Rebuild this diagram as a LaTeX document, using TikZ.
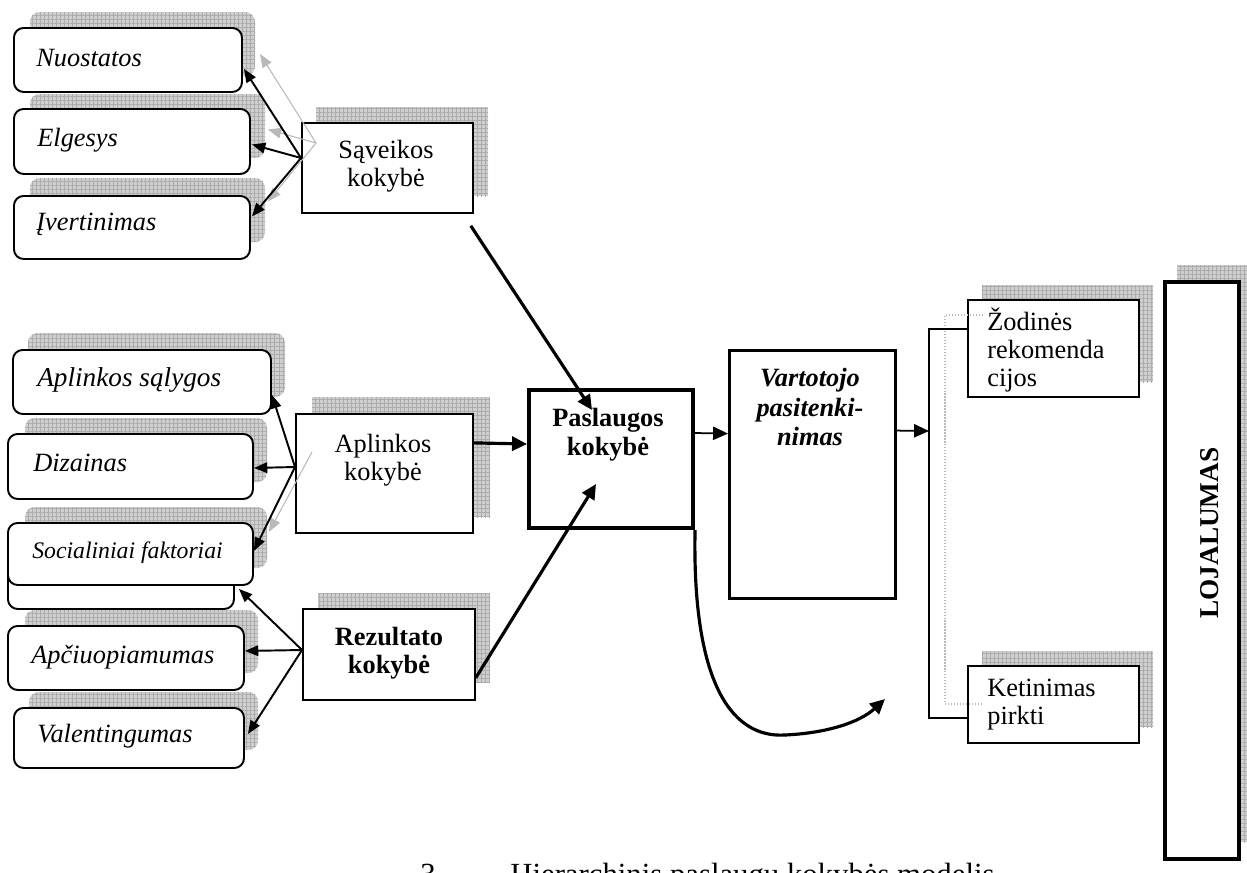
\documentclass[tikz,border=0pt]{standalone}
\usepackage{fontspec}
\setmainfont{Liberation Serif}
\usetikzlibrary{arrows.meta,patterns.meta,calc}
\newcommand{\pxl}[1]{#1*0.02cm}
\tikzset{
  shd/.style={preaction={fill=gray!38}, pattern={Hatch[angle=0,distance=2.3pt,line width=0.35pt]}, pattern color=gray!65},
  rshd/.style={shd, rounded corners=5.5pt},
  lbox/.style={draw, line width=1.1pt, fill=white, rounded corners=5.5pt, anchor=north west, inner sep=0pt},
  sbox/.style={draw, line width=1pt, fill=white, anchor=north west, inner sep=0pt},
  tbox/.style={draw, line width=2.3pt, fill=white, anchor=north west, inner sep=0pt},
  itxt/.style={font=\fontsize{15}{16}\selectfont\itshape, anchor=base west, inner sep=0pt},
  ctxt/.style={font=\fontsize{15}{15.9}\selectfont, align=center, inner sep=0pt},
  btxt/.style={font=\fontsize{15}{16.2}\selectfont\bfseries, align=center, inner sep=0pt},
  ltxt/.style={font=\fontsize{15}{16}\selectfont, align=left, anchor=west, inner sep=0pt},
  arr/.style={-{Triangle[length=7.6pt,width=6pt]}, line width=1.1pt},
  garr/.style={-{Triangle[length=7.6pt,width=6pt]}, line width=0.6pt, draw=gray!55},
  tarr/.style={-{Triangle[length=8.5pt,width=8pt]}, line width=1.8pt},
  marr/.style={-{Triangle[length=8.5pt,width=7.5pt]}, line width=1pt},
}
\begin{document}
\begin{tikzpicture}[x=0.02cm,y=-0.02cm]
\useasboundingbox (0,0) rectangle (1247,872);
% shadows
\path[rshd] (30,12) rectangle (255,76);
\path[rshd] (30,94) rectangle (265,158);
\path[rshd] (30,178) rectangle (265,242);
\path[rshd] (28,333) rectangle (285,397);
\path[rshd] (25,418) rectangle (267,482);
\path[rshd] (25,507) rectangle (267,568);
\path[rshd] (25,610) rectangle (258,673);
\path[rshd] (29,692) rectangle (258,750);
\path[shd] (316,107) rectangle (488,196);
\path[shd] (312,397) rectangle (490,517);
\path[shd] (318,593) rectangle (490,682);
\path[shd] (982,285) rectangle (1153,382);
\path[shd] (982,651) rectangle (1153,727);
\path[shd] (1177,265) rectangle (1247,842);
% gray shadow arrows
\coordinate (savfang) at (316,143);
\coordinate (aplfang) at (312,452);
% left boxes
\node[lbox, minimum width=\pxl{228}, minimum height=\pxl{64}] (nuo) at (13,27) {};
\node[lbox, minimum width=\pxl{236}, minimum height=\pxl{65}] (elg) at (13,108) {};
\node[lbox, minimum width=\pxl{236}, minimum height=\pxl{63}] (ive) at (13,195) {};
\node[lbox, minimum width=\pxl{258}, minimum height=\pxl{64}] (aps) at (12,349) {};
\node[lbox, minimum width=\pxl{245}, minimum height=\pxl{65}] (diz) at (7,433) {};
\node[lbox, minimum width=\pxl{226}, minimum height=\pxl{63}] (socb) at (7,545) {};
\node[lbox, minimum width=\pxl{245}, minimum height=\pxl{62}] (soc) at (7,522) {};
\node[lbox, minimum width=\pxl{236}, minimum height=\pxl{64}] (apc) at (7,625) {};
\node[lbox, minimum width=\pxl{230}, minimum height=\pxl{60}] (val) at (13,707) {};
% middle boxes
\node[sbox, minimum width=\pxl{171}, minimum height=\pxl{90}] (sav) at (301,122) {};
\node[sbox, minimum width=\pxl{177}, minimum height=\pxl{119}] (apl) at (295,413) {};
\node[sbox, minimum width=\pxl{172}, minimum height=\pxl{91}] (rez) at (302,608) {};
\node[tbox, minimum width=\pxl{164}, minimum height=\pxl{138}] (pas) at (527,388) {};
\node[tbox, line width=1.8pt, minimum width=\pxl{166}, minimum height=\pxl{248}] (var) at (728,349) {};
\node[sbox, minimum width=\pxl{171}, minimum height=\pxl{97}] (zod) at (967,299) {};
\node[sbox, minimum width=\pxl{171}, minimum height=\pxl{77}] (ket) at (967,665) {};
\node[tbox, minimum width=\pxl{74}, minimum height=\pxl{577}] (loj) at (1163,280) {};
% texts
\node[itxt] (nuo-t) at (36,66) {Nuostatos};
\node[itxt] (elg-t) at (37,146) {Elgesys};
\node[itxt] (ive-t) at (36,230) {Įvertinimas};
\node[itxt, font=\fontsize{15.5}{16}\selectfont\itshape] (aps-t) at (37,386) {Aplinkos sąlygos};
\node[itxt] (diz-t) at (33,471) {Dizainas};
\node[itxt, font=\fontsize{13.5}{15}\selectfont\itshape] (soc-t) at (32,558) {Socialiniai faktoriai};
\node[itxt] (apc-t) at (31,663) {Apčiuopiamumas};
\node[itxt] (val-t) at (37,742) {Valentingumas};
\node[ctxt] (sav-t) at (386,166) {Sąveikos\\kokybė};
\node[ctxt] (apl-t) at (383,460) {Aplinkos\\kokybė};
\node[btxt] (rez-t) at (389,653) {Rezultato\\kokybė};
\node[btxt] (pas-t) at (608,434.5) {Paslaugos\\kokybė};
\node[btxt, font=\fontsize{15}{17}\selectfont\bfseries\itshape] (var-t) at (810,407) {Vartotojo\\pasitenki-\\nimas};
\node[ltxt] (zod-t) at (987,350) {Žodinės\\rekomenda\\cijos};
\node[ltxt] (ket-t) at (987,704.5) {Ketinimas\\pirkti};
\node[font=\fontsize{15.5}{16}\selectfont\bfseries, rotate=90, inner sep=0pt] (loj-t) at (1210,533) {LOJALUMAS};
\node[font=\fontsize{17.5}{18}\selectfont, anchor=base west, inner sep=0pt] (cap-n) at (420,884) {3.};
\node[font=\fontsize{17.5}{18}\selectfont, anchor=base west, inner sep=0pt] (cap-t) at (510,884) {Hierarchinis paslaugų kokybės modelis};
% gray arrows
\draw[garr] (savfang) -- ($(nuo.east)+(17,-6)$);
\draw[garr] (savfang) -- ($(elg.east)+(17,-12)$);
\draw[garr] (savfang) -- ($(ive.east)+(17,-26)$);
\draw[garr] (aplfang) -- ($(soc.east)+(15,-22)$);
% fan arrows
\coordinate (savfan) at (301,158);
\coordinate (aplfan) at (295,467);
\coordinate (rezfan) at (302,650);
\draw[arr] (savfan) -- ($(nuo.east)+(1,9)$);
\draw[arr] (savfan) -- ($(elg.east)+(1,3)$);
\draw[arr] (savfan) -- ($(ive.east)+(1,-11)$);
\draw[arr] (aplfan) -- ($(aps.south east)+(0,-20)$);
\draw[arr] (aplfan) -- ($(diz.east)+(0,1.5)$);
\draw[arr] (aplfan) -- ($(soc.east)+(0,-3)$);
\draw[arr] (rezfan) -- ($(soc.south east)+(-15,3)$);
\draw[arr] (rezfan) -- ($(apc.east)+(0,-7)$);
\draw[arr] (rezfan) -- ($(val.east)+(3,-4)$);
% main arrows
\draw[tarr] ($(sav.south east)+(-3,12)$) -- ($(pas.north west)+(65,22)$);
\draw[tarr] ($(apl.east)+(0,-30.5)$) -- ($(pas.west)+(0,-15)$);
\draw[tarr] ($(rez.east)+(0,23.5)$) -- ($(pas.south west)+(69,-46)$);
\draw[marr] ($(pas.east)+(0,-26)$) -- ($(var.west)+(0,-41)$);
\coordinate (brin) at (929,431);
\coordinate (brtop) at (929,329);
\coordinate (brbot) at (929,718);
\draw[marr] ($(var.east)+(0,-44)$) -- (brin);
\coordinate (gtop) at (945,315);
\coordinate (gbot) at (945,704);
\draw[gray!55, densely dotted, line width=0.7pt] ($(zod.west |- gtop)+(16,0)$) -- (gtop) -- (gbot) -- ($(ket.west |- gbot)+(16,0)$);
\draw[line width=1pt] (zod.west |- brtop) -- (brtop) -- (brbot) -- (ket.west |- brbot);
\coordinate (cmid) at (785,735);
\coordinate (cend) at (885,699);
\draw[line width=1.8pt] (pas.south east) .. controls (692,690) and (735,738) .. (cmid);
\draw[tarr] (cmid) .. controls (828,733) and (860,722) .. (cend);
\end{tikzpicture}
\end{document}
